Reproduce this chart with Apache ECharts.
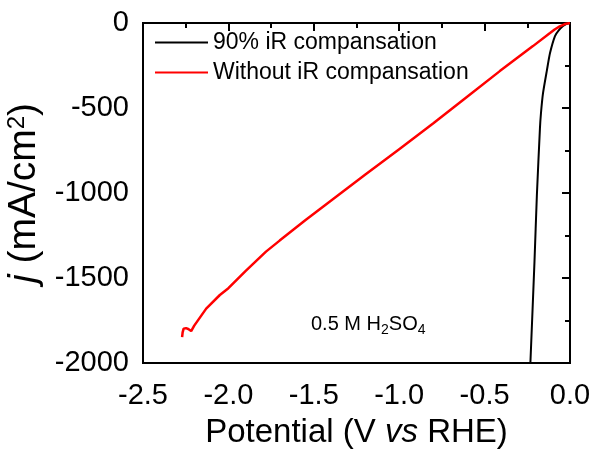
<!DOCTYPE html>
<html><head><meta charset="utf-8">
<script src="https://cdn.jsdelivr.net/npm/echarts@6/dist/echarts.min.js"></script>
<style>html,body{margin:0;padding:0;background:#fff}#c{width:589px;height:449px}</style>
</head><body><div id="c"></div>
<script>
var blackV = [0, -0.02, -0.041, -0.065, -0.088, -0.117, -0.135, -0.158, -0.170, -0.176, -0.194, -0.208, -0.231, -0.232];
var blackJ = [0, -5, -18, -42, -77, -177, -277, -413, -531, -620, -1015, -1405, -1978, -2000];
var redV = [0, -0.03, -0.06, -0.09, -0.117, -0.217, -0.411, -0.604, -0.8, -1.0, -1.2, -1.4, -1.55, -1.70, -1.78, -1.90, -2.00, -2.05, -2.13, -2.20, -2.218, -2.235, -2.248, -2.262, -2.268, -2.271];
var redJ = [0, -6, -20, -38, -59, -136, -283, -435, -590, -742, -893, -1045, -1160, -1280, -1345, -1460, -1560, -1600, -1680, -1780, -1812, -1800, -1795, -1798, -1820, -1848];
var xTicks = [-2.5, -2.0, -1.5, -1.0, -0.5, 0.0];
var yTicks = [-2000, -1500, -1000, -500, 0];
var seriesNames = ['90% iR compansation', 'Without iR compansation'];

function zip(a, b) { return a.map(function (v, i) { return [v, b[i]]; }); }
var FONT = 'Liberation Sans, Arial, sans-serif';
var chart = echarts.init(document.getElementById('c'));
chart.setOption({
  animation: false,
  backgroundColor: '#fff',
  grid: { left: 143, right: 19, top: 23, bottom: 86, show: true, borderColor: '#000', borderWidth: 2, containLabel: false, outerBoundsMode: 'none' },
  legend: {
    left: 150, top: 26, orient: 'vertical', itemWidth: 53, itemHeight: 2, itemGap: 7, icon: 'rect',
    data: seriesNames,
    textStyle: { fontFamily: FONT, fontSize: 23, color: '#000', lineHeight: 23 }
  },
  xAxis: {
    type: 'value', min: xTicks[0], max: xTicks[xTicks.length - 1], interval: 0.5,
    axisLine: { show: true, lineStyle: { color: '#000', width: 2 } },
    axisTick: { show: true, inside: false, length: 8, lineStyle: { color: '#000', width: 2 } },
    minorTick: { show: true, splitNumber: 2, length: 5, lineStyle: { color: '#000', width: 2 } },
    splitLine: { show: false },
    axisLabel: { fontFamily: FONT, fontSize: 29, color: '#000', margin: 18, formatter: function (v) { return v.toFixed(1); } },
    name: 'Potential (V {i|vs} RHE)', nameLocation: 'middle', nameGap: 53,
    nameTextStyle: { fontFamily: FONT, fontSize: 33, color: '#000', rich: { i: { fontFamily: FONT, fontSize: 33, fontStyle: 'italic', color: '#000' } } }
  },
  yAxis: {
    type: 'value', min: yTicks[0], max: yTicks[yTicks.length - 1], interval: 500,
    axisLine: { show: true, lineStyle: { color: '#000', width: 2 } },
    axisTick: { show: true, inside: false, length: 8, lineStyle: { color: '#000', width: 2 } },
    minorTick: { show: true, splitNumber: 2, length: 5, lineStyle: { color: '#000', width: 2 } },
    splitLine: { show: false },
    axisLabel: { fontFamily: FONT, fontSize: 29, color: '#000', margin: 14, formatter: function (v) { return String(v); } },
    name: '{i|j} (mA/cm{sup|2})', nameLocation: 'middle', nameGap: 98, nameRotate: 90,
    nameTextStyle: { fontFamily: FONT, fontSize: 39, color: '#000',
      rich: { i: { fontFamily: FONT, fontSize: 39, fontStyle: 'italic', color: '#000' },
              sup: { fontFamily: FONT, fontSize: 24, color: '#000', verticalAlign: 'top', padding: [0, 0, 12, 0] } } }
  },
  graphic: [{
    type: 'text', left: 311, top: 314,
    style: {
      text: '0.5 M H{sub|2}SO{sub|4}', fontFamily: FONT, fontSize: 20, fill: '#000',
      rich: { sub: { fontFamily: FONT, fontSize: 14, fill: '#000', padding: [12, 0, 0, 0] } }
    }
  }],
  series: [
    { name: seriesNames[0], type: 'line', data: zip(blackV, blackJ), symbol: 'none', smooth: 0.2, lineStyle: { color: '#000', width: 2 }, itemStyle: { color: '#000' }, z: 3 },
    { name: seriesNames[1], type: 'line', data: zip(redV, redJ), symbol: 'none', lineStyle: { color: '#ff0000', width: 2.5 }, itemStyle: { color: '#ff0000' }, z: 4 }
  ]
});
</script></body></html>
